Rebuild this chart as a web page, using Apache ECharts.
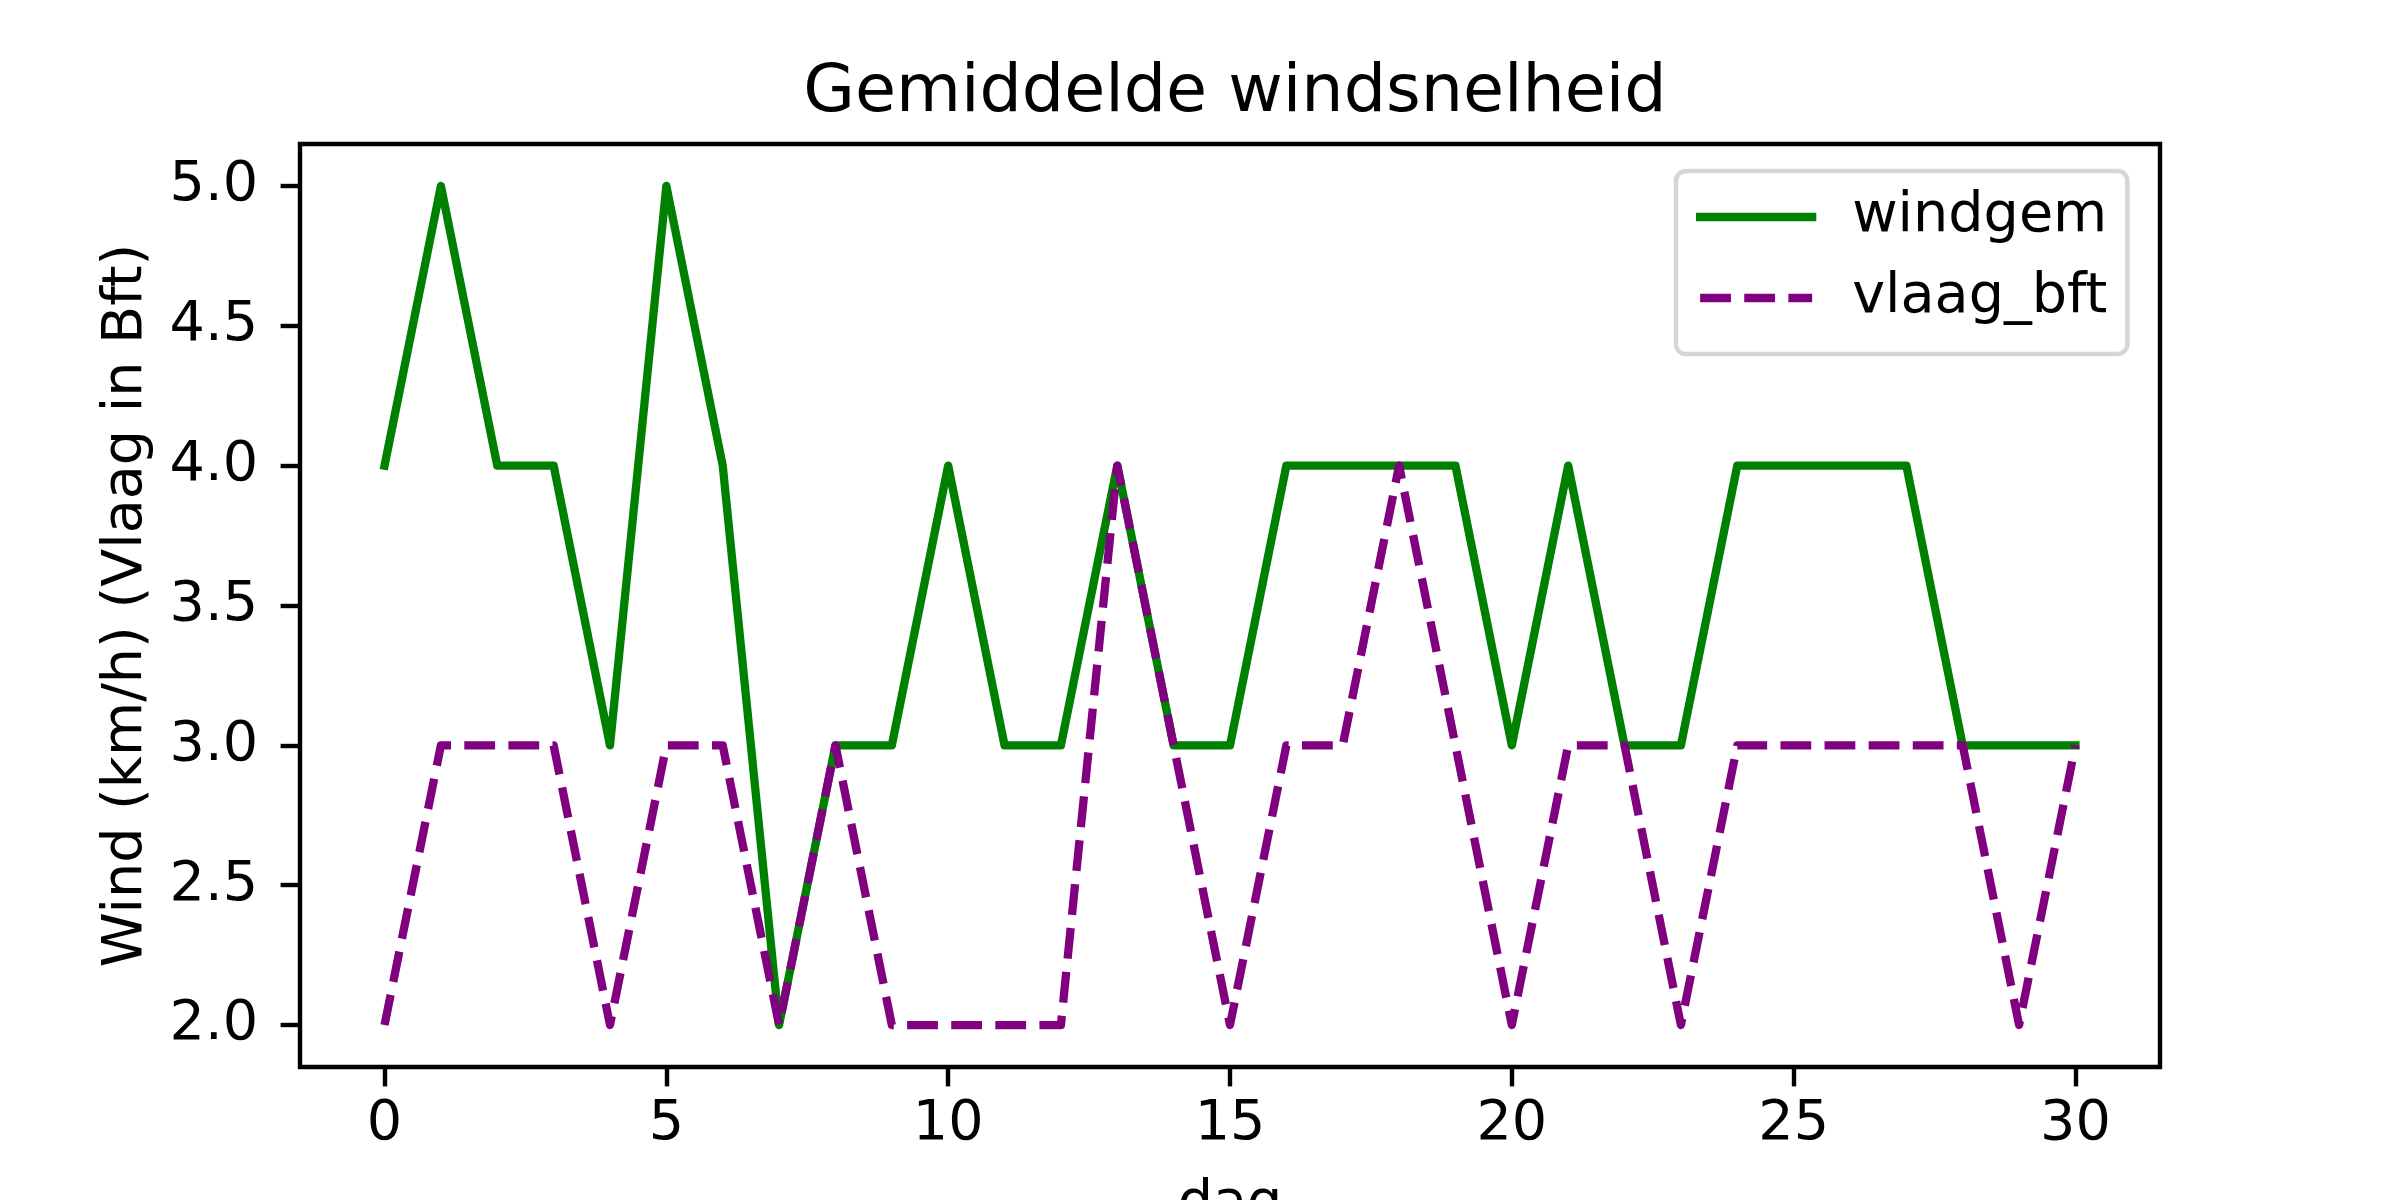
<!DOCTYPE html>
<html>
<head>
<meta charset="utf-8">
<script src="https://cdn.jsdelivr.net/npm/echarts@6/dist/echarts.min.js"></script>
<style>
  html, body { margin: 0; padding: 0; background: #fff; }
  #chart { width: 2400px; height: 1200px; }
</style>
</head>
<body>
<div id="chart"></div>
<script>
// daily values
const days = [0,1,2,3,4,5,6,7,8,9,10,11,12,13,14,15,16,17,18,19,20,21,22,23,24,25,26,27,28,29,30];
const windgem = [4,5,4,4,3,5,4,2,3,3,4,3,3,4,3,3,4,4,4,4,3,4,3,3,4,4,4,4,3,3,3];
const vlaagBft = [2,3,3,3,2,3,3,2,3,2,2,2,2,4,3,2,3,3,4,3,2,3,3,2,3,3,3,3,3,2,3];
const xTicks = [0,5,10,15,20,25,30];
const yTicks = [2.0,2.5,3.0,3.5,4.0,4.5,5.0];

const FONT = "'DejaVu Sans', sans-serif";
const LW = 8.3;

function pairs(ys) {
  return days.map((d, i) => [d, ys[i]]);
}

let chart = echarts.init(document.getElementById('chart'), null, {renderer: 'canvas'});

var option = {
  animation: false,
  backgroundColor: '#ffffff',
  title: {
    text: 'Gemiddelde windsnelheid',
    left: 1230,
    top: 55,
    textAlign: 'center',
    textStyle: {fontFamily: FONT, fontSize: 66.7, fontWeight: 'normal', color: '#000'}
  },
  grid: {
    left: 300, top: 144, width: 1860, height: 923,
    outerBoundsMode: 'none',
    containLabel: false,
    show: true, borderColor: '#000', borderWidth: 4.4, backgroundColor: 'transparent'
  },
  legend: {
    orient: 'vertical',
    left: 1676,
    top: 171,
    padding: [16, 20, 26, 20],
    itemWidth: 112,
    itemHeight: 60,
    itemGap: 21,
    backgroundColor: '#ffffff',
    borderColor: '#d6d6d6',
    borderWidth: 4.5,
    borderRadius: 10,
    itemStyle: {opacity: 0},
    lineStyle: {width: LW},
    textStyle: {
      fontFamily: FONT, fontSize: 55.6, color: '#000',
      lineHeight: 60, padding: [0, 0, 0, 35]
    },
    data: ['windgem', 'vlaag_bft']
  },
  xAxis: {
    type: 'value',
    min: -1.5,
    max: 31.5,
    name: 'dag',
    nameLocation: 'middle',
    nameGap: 110,
    nameTextStyle: {fontFamily: FONT, fontSize: 55.6, color: '#000'},
    axisLine: {show: false, onZero: false},
    splitLine: {show: false},
    axisTick: {show: true, inside: false, length: 19.4, customValues: xTicks,
      lineStyle: {color: '#000', width: 4.4}},
    axisLabel: {
      customValues: xTicks,
      margin: 30,
      fontFamily: FONT, fontSize: 55.6, color: '#000', lineHeight: 56
    }
  },
  yAxis: {
    type: 'value',
    min: 1.85,
    max: 5.15,
    name: 'Wind (km/h) (Vlaag in Bft)',
    nameLocation: 'middle',
    nameGap: 145,
    nameTextStyle: {fontFamily: FONT, fontSize: 55.6, color: '#000'},
    axisLine: {show: false, onZero: false},
    splitLine: {show: false},
    axisTick: {show: true, inside: false, length: 19.4, customValues: yTicks,
      lineStyle: {color: '#000', width: 4.4}},
    axisLabel: {
      customValues: yTicks,
      margin: 42,
      fontFamily: FONT, fontSize: 55.6, color: '#000',
      formatter: (v) => Number(v).toFixed(1)
    }
  },
  series: [
    {
      name: 'windgem',
      type: 'line',
      data: pairs(windgem),
      symbol: 'none',
      color: '#008000',
      lineStyle: {color: '#008000', width: LW, type: 'solid', join: 'round', cap: 'square'}
    },
    {
      name: 'vlaag_bft',
      type: 'line',
      data: pairs(vlaagBft),
      symbol: 'none',
      color: '#800080',
      lineStyle: {color: '#800080', width: LW, type: [30.8, 13.3], join: 'round', cap: 'butt'}
    }
  ]
};

chart.setOption(option);
</script>
</body>
</html>
